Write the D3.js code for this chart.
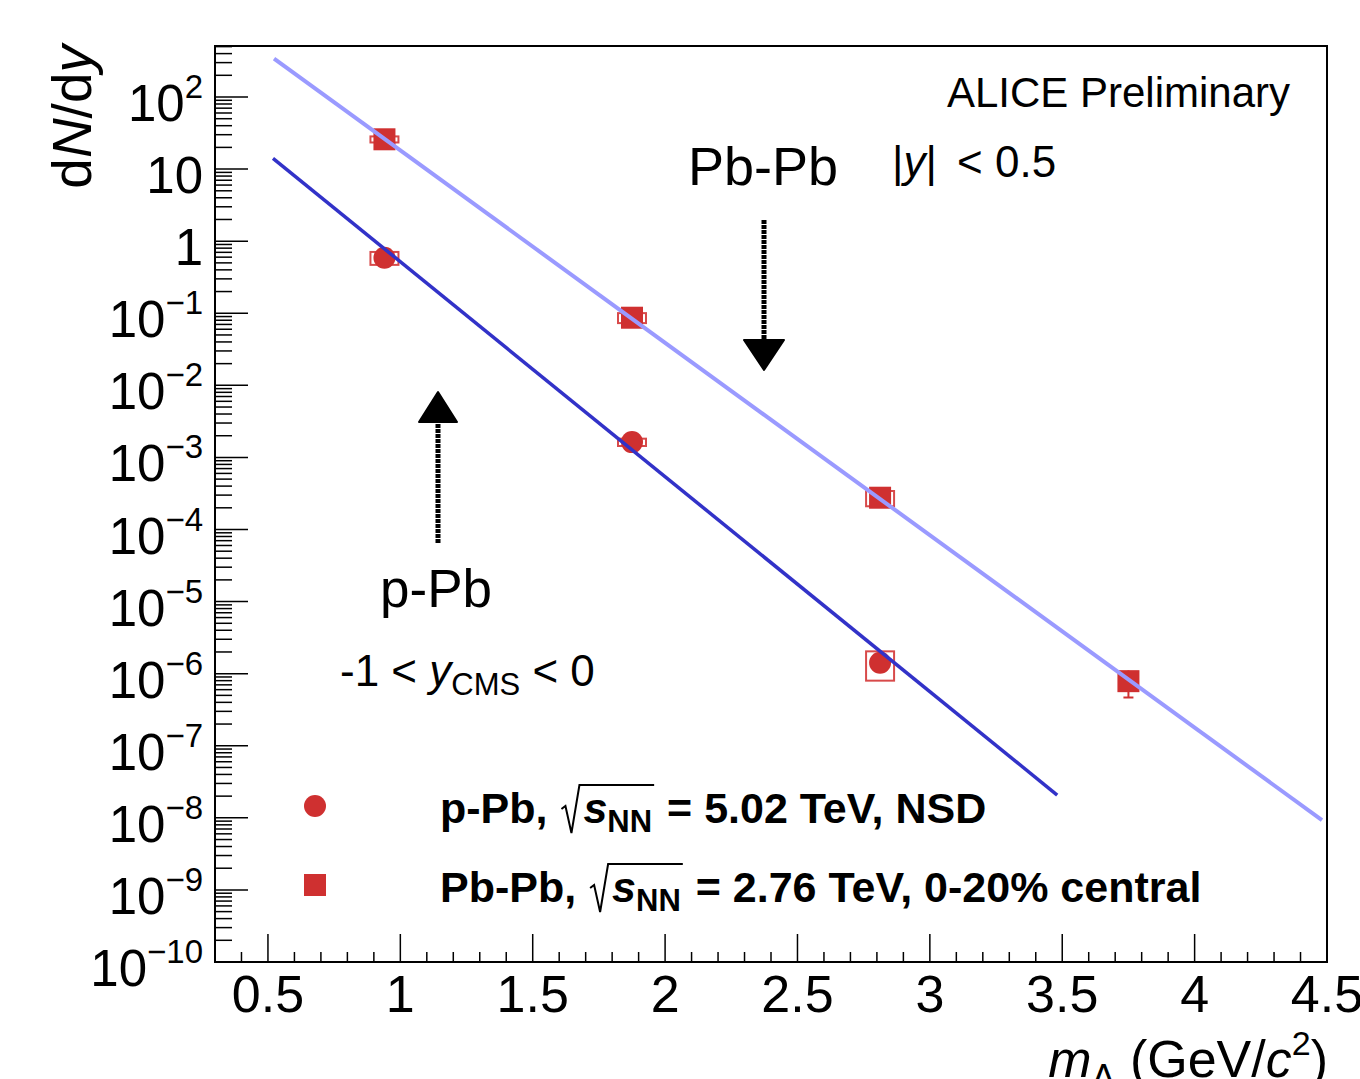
<!DOCTYPE html>
<html>
<head>
<meta charset="utf-8">
<script src="https://cdn.jsdelivr.net/npm/d3@7"></script>
<style>
  body { margin: 0; background: #fff; }
  text { font-family: "Liberation Sans", Arial, Helvetica, sans-serif; fill: #000; white-space: pre; }
</style>
</head>
<body>
<div id="chart"></div>
<script>
// values
const massPPb  = [0.94, 1.875, 2.812];
const yieldPPb = [0.589, 1.63e-3, 1.42e-6];
const statPPb  = [0, 0, 0];
const sysPPb   = [0.12, 1.9e-4, 0.62e-6];

const massPbPb  = [0.94, 1.875, 2.812, 3.75];
const yieldPbPb = [25.9, 0.0867, 2.76e-4, 7.87e-7];
const statPbPb  = [0, 0, 0, 3.2e-7];
const sysPbPb   = [2.5, 0.0137, 0.66e-4, 0];

// exponential fits, straight on log scale: end points
const fitPPbX  = [0.519, 3.481];
const fitPPbY  = [14.1, 2.07e-8];
const fitPbPbX = [0.523, 4.481];
const fitPbPbY = [341, 9.29e-9];

const xTicks = [0.5, 1, 1.5, 2, 2.5, 3, 3.5, 4, 4.5];
const xTickLabels = ["0.5", "1", "1.5", "2", "2.5", "3", "3.5", "4", "4.5"];
const yExponents = [2, 1, 0, -1, -2, -3, -4, -5, -6, -7, -8, -9, -10];

const W = 1360, H = 1079;
const padL = 215, padR = 1327, padT = 46, padB = 962;
const red = "#cf3030";

const svg = d3.select("#chart").append("svg")
  .attr("width", W).attr("height", H);

const x = d3.scaleLinear().domain([0.3, 4.5]).range([padL, padR]);
const y = d3.scaleLog().domain([1e-10, 510]).range([padB, padT]);

// text made of pieces (sub/superscripts, italics)
function chain(g, x0, y0, parts, anchor) {
  const grp = g.append("g");
  let cx = x0;
  const pos = [];
  parts.forEach(p => {
    cx += (p.dx || 0);
    const t = grp.append("text")
      .attr("x", cx).attr("y", y0 + (p.dy || 0))
      .attr("font-size", p.size)
      .attr("font-style", p.italic ? "italic" : null)
      .attr("font-weight", p.bold ? "bold" : null)
      .text(p.t);
    const w = t.node().getComputedTextLength();
    pos.push({ x: cx, w: w });
    cx += w;
  });
  let shift = 0;
  if (anchor === "end") shift = x0 - cx;
  if (anchor === "middle") shift = (x0 - cx) / 2;
  grp.attr("transform", "translate(" + shift + ",0)");
  pos.forEach(p => p.x += shift);
  return pos;
}

// frame
svg.append("rect")
  .attr("x", padL).attr("y", padT)
  .attr("width", padR - padL).attr("height", padB - padT)
  .attr("fill", "none").attr("stroke", "#000").attr("stroke-width", 2);

// x ticks
const xMinor = d3.range(3, 46).map(i => i / 10).filter(v => !xTicks.some(t => Math.abs(t - v) < 1e-6));
svg.append("g").selectAll("line").data(xMinor).join("line")
  .attr("x1", d => x(d)).attr("x2", d => x(d))
  .attr("y1", padB).attr("y2", padB - 10)
  .attr("stroke", "#000").attr("stroke-width", 1.5);
svg.append("g").selectAll("line").data(xTicks).join("line")
  .attr("x1", d => x(d)).attr("x2", d => x(d))
  .attr("y1", padB).attr("y2", padB - 28)
  .attr("stroke", "#000").attr("stroke-width", 1.5);
svg.append("g").selectAll("text").data(xTicks).join("text")
  .attr("x", d => x(d)).attr("y", 1012)
  .attr("text-anchor", "middle").attr("font-size", 52)
  .text((d, i) => xTickLabels[i]);

// y ticks
const yMinor = [];
yExponents.forEach(e => {
  for (let k = 2; k <= 9; k++) {
    const v = k * Math.pow(10, e);
    if (v <= 510) yMinor.push(v);
  }
});
svg.append("g").selectAll("line").data(yMinor).join("line")
  .attr("x1", padL).attr("x2", padL + 17)
  .attr("y1", d => y(d)).attr("y2", d => y(d))
  .attr("stroke", "#000").attr("stroke-width", 1.5);
svg.append("g").selectAll("line").data(yExponents).join("line")
  .attr("x1", padL).attr("x2", padL + 33)
  .attr("y1", d => y(Math.pow(10, d))).attr("y2", d => y(Math.pow(10, d)))
  .attr("stroke", "#000").attr("stroke-width", 1.5);

const yLab = svg.append("g");
yExponents.forEach(e => {
  const ty = y(Math.pow(10, e));
  let parts;
  if (e === 0) parts = [{ t: "1", size: 51 }];
  else if (e === 1) parts = [{ t: "10", size: 51 }];
  else parts = [{ t: "10", size: 51 }, { t: (e < 0 ? "\u2212" : "") + Math.abs(e), size: 33, dy: -23 }];
  chain(yLab, 203, ty + 24, parts, "end");
});

// axis titles
chain(svg, 1328, 1077, [
  { t: "m", size: 52, italic: true },
  { t: "A", size: 36, dy: 13 },
  { t: " (GeV/", size: 52 },
  { t: "c", size: 52, italic: true },
  { t: "2", size: 34, dy: -22 },
  { t: ")", size: 52 }
], "end");

const yt = svg.append("g").attr("transform", "translate(91,45) rotate(-90)");
chain(yt, 0, 0, [
  { t: "d", size: 55 },
  { t: "N", size: 55, italic: true },
  { t: "/d", size: 55 },
  { t: "y", size: 55, italic: true }
], "end");

// systematic boxes
function sysBoxes(mass, val, sys) {
  const d = mass.map((m, i) => ({ m: m, v: val[i], s: sys[i] })).filter(d => d.s > 0);
  svg.append("g").selectAll("rect").data(d).join("rect")
    .attr("x", d => x(d.m) - 14).attr("width", 28)
    .attr("y", d => y(d.v + d.s)).attr("height", d => y(d.v - d.s) - y(d.v + d.s))
    .attr("fill", "none").attr("stroke", "#d84a4a").attr("stroke-width", 2);
}
function statBars(mass, val, stat) {
  const d = mass.map((m, i) => ({ m: m, v: val[i], s: stat[i] })).filter(d => d.s > 0);
  const g = svg.append("g").attr("stroke", red).attr("stroke-width", 2);
  g.selectAll("line.v").data(d).join("line").attr("class", "v")
    .attr("x1", d => x(d.m)).attr("x2", d => x(d.m))
    .attr("y1", d => y(d.v + d.s)).attr("y2", d => y(d.v - d.s));
  g.selectAll("line.c").data(d).join("line").attr("class", "c")
    .attr("x1", d => x(d.m) - 5).attr("x2", d => x(d.m) + 5)
    .attr("y1", d => y(d.v - d.s)).attr("y2", d => y(d.v - d.s));
}

sysBoxes(massPPb, yieldPPb, sysPPb);
sysBoxes(massPbPb, yieldPbPb, sysPbPb);
statBars(massPPb, yieldPPb, statPPb);
statBars(massPbPb, yieldPbPb, statPbPb);

svg.append("g").selectAll("circle").data(massPPb).join("circle")
  .attr("cx", d => x(d)).attr("cy", (d, i) => y(yieldPPb[i]))
  .attr("r", 11).attr("fill", red);
svg.append("g").selectAll("rect").data(massPbPb).join("rect")
  .attr("x", d => x(d) - 11).attr("y", (d, i) => y(yieldPbPb[i]) - 11)
  .attr("width", 22).attr("height", 22).attr("fill", red);

// fits
const line = d3.line().x(d => x(d[0])).y(d => y(d[1]));
svg.append("path").datum(d3.zip(fitPbPbX, fitPbPbY))
  .attr("d", line).attr("fill", "none").attr("stroke", "#9a9aff").attr("stroke-width", 4);
svg.append("path").datum(d3.zip(fitPPbX, fitPPbY))
  .attr("d", line).attr("fill", "none").attr("stroke", "#3232c8").attr("stroke-width", 3.5);

// annotations
svg.append("text").attr("x", 1290).attr("y", 107).attr("text-anchor", "end")
  .attr("font-size", 42).text("ALICE Preliminary");
svg.append("text").attr("x", 688).attr("y", 185).attr("font-size", 54).text("Pb-Pb");
chain(svg, 892, 177, [
  { t: "|", size: 44 },
  { t: "y", size: 44, italic: true },
  { t: "|", size: 44 },
  { t: " < 0.5", size: 44, dx: 8 }
]);
svg.append("text").attr("x", 380).attr("y", 607).attr("font-size", 53).text("p-Pb");
chain(svg, 340, 686, [
  { t: "-1 < ", size: 44 },
  { t: "y", size: 44, italic: true },
  { t: "CMS", size: 31, dy: 9 },
  { t: " < 0", size: 44 }
]);

function arrow(ax, y0, y1, headLen, headHalf) {
  const dir = y1 > y0 ? 1 : -1;
  svg.append("line").attr("x1", ax).attr("x2", ax)
    .attr("y1", y0).attr("y2", y1 - dir * headLen)
    .attr("stroke", "#000").attr("stroke-width", 5).attr("stroke-dasharray", "4,1");
  svg.append("path")
    .attr("d", `M${ax - headHalf},${y1 - dir * headLen} L${ax + headHalf},${y1 - dir * headLen} L${ax},${y1} Z`)
    .attr("fill", "#000").attr("stroke", "#000").attr("stroke-width", 2).attr("stroke-linejoin", "round");
}
arrow(764, 220, 370, 30, 20);
arrow(438, 543, 392, 30, 19);

// legend
svg.append("circle").attr("cx", 315).attr("cy", 806).attr("r", 11).attr("fill", red);
svg.append("rect").attr("x", 304).attr("y", 874).attr("width", 22).attr("height", 22).attr("fill", red);

function legendEntry(ly, head, tail) {
  const p1 = chain(svg, 440, ly, [{ t: head, size: 43, bold: true }]);
  const rx = p1[0].x + p1[0].w + 2;
  const p2 = chain(svg, rx + 22, ly, [
    { t: "s", size: 43, bold: true, italic: true },
    { t: "NN", size: 31, bold: true, dy: 9 },
    { t: tail, size: 43, bold: true, dx: 3 }
  ]);
  const endBar = p2[1].x + p2[1].w + 2;
  const topY = ly - 38;
  svg.append("path")
    .attr("d", `M${rx},${ly - 14} L${rx + 4},${ly - 17} L${rx + 10},${ly + 10} L${rx + 18},${topY} L${endBar},${topY}`)
    .attr("fill", "none").attr("stroke", "#000").attr("stroke-width", 2);
}
legendEntry(823, "p-Pb, ", " = 5.02 TeV, NSD");
legendEntry(902, "Pb-Pb, ", " = 2.76 TeV, 0-20% central");
</script>
</body>
</html>
